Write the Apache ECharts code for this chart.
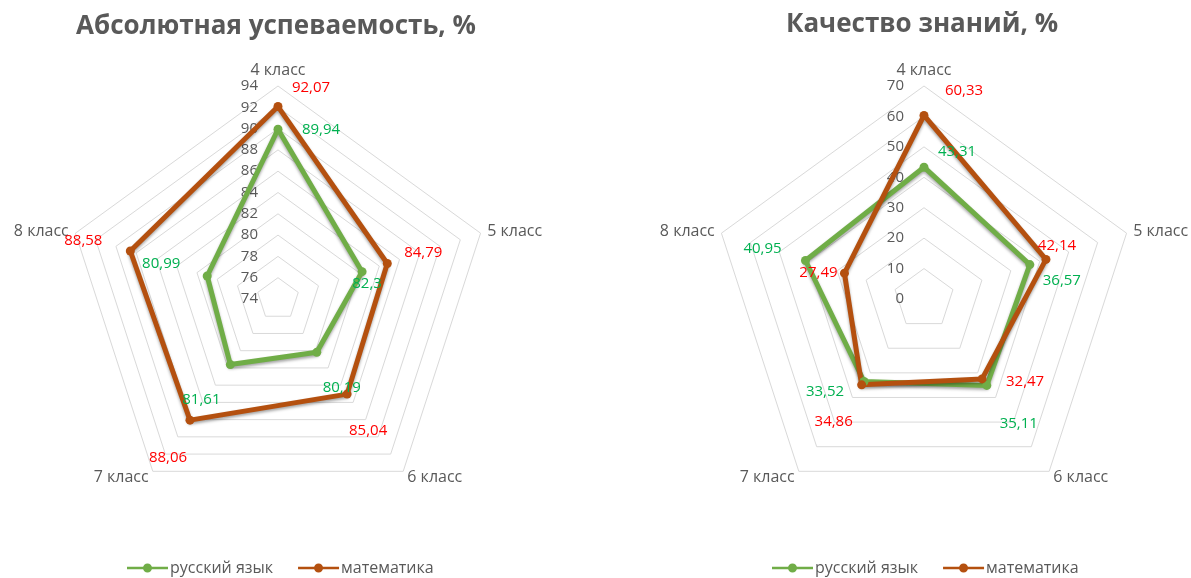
<!DOCTYPE html>
<html>
<head>
<meta charset="utf-8">
<script src="https://cdn.jsdelivr.net/npm/echarts@6/dist/echarts.min.js"></script>
<style>
  html, body { margin: 0; padding: 0; background: #fff; }
  #chart { width: 1191px; height: 578px; }
</style>
</head>
<body>
<div id="chart"></div>
<script>
  var classes = ['4 класс', '5 класс', '6 класс', '7 класс', '8 класс']
  var subjects = ['русский язык', 'математика']

  // Абсолютная успеваемость, %
  var passRus = [89.94, 82.3, 80.19, 81.61, 80.99]
  var passMath = [92.07, 84.79, 85.04, 88.06, 88.58]
  var passAxis = { min: 74, max: 94, splitNumber: 10 }

  // Качество знаний, %
  var qualRus = [43.31, 36.57, 35.11, 33.52, 40.95]
  var qualMath = [60.33, 42.14, 32.47, 34.86, 27.49]
  var qualAxis = { min: 0, max: 70, splitNumber: 7 }

  // сдвиг подписей от точки (как в экселе, подписи разбросаны)
  var offPassRus = [[43, 0], [5, 12], [25, 35], [-29, 35], [-46, -12]]
  var offPassMath = [[33, -19], [36, -11], [21, 37], [-22, 38], [-47, -10]]
  var offQualRus = [[33, -15], [32, 16], [32, 38], [-39, 10], [-43, -12]]
  var offQualMath = [[40, -25], [11, -14], [43, 3], [-28, 37], [-26, 0]]

  // echarts рисует индикаторы против часовой, эксель по часовой
  var order = [0, 4, 3, 2, 1]

  var green = '#70AD47'
  var brown = '#B4500F'
  var greenText = '#00B050'
  var redText = '#FF0000'
  var grey = '#595959'
  var font = 'Open Sans'

  function fmt(v) {
    return String(v).replace('.', ',')
  }

  function reorder(arr) {
    return order.map(function (k) { return arr[k] })
  }

  function radar(cx, axis) {
    return {
      center: [cx, 299],
      radius: 213,
      shape: 'polygon',
      startAngle: 90,
      splitNumber: axis.splitNumber,
      nameGap: 7,
      indicator: reorder(classes).map(function (c, i) {
        var ind = { name: c, min: axis.min, max: axis.max }
        if (i === 0) ind.axisLabel = { show: true }
        return ind
      }),
      axisName: { color: grey, fontSize: 16, fontFamily: font },
      axisLine: { show: false },
      axisTick: { show: false },
      axisLabel: { show: false, color: grey, fontSize: 15, fontFamily: font, margin: 20, align: 'right' },
      splitLine: { lineStyle: { color: '#D9D9D9', width: 1 } },
      splitArea: { show: false }
    }
  }

  function series(radarIndex, name, vals, color, textColor, offs) {
    var values = reorder(vals)
    var offsets = reorder(offs)
    var data = [{
      name: name,
      value: values,
      symbol: 'circle',
      symbolSize: 9,
      label: { show: false }
    }]
    // по одному невидимому элементу на каждую подпись
    values.forEach(function (v, i) {
      data.push({
        name: name,
        value: values,
        symbol: 'circle',
        symbolSize: 1,
        lineStyle: { opacity: 0, shadowBlur: 0 },
        itemStyle: { color: 'transparent' },
        label: {
          show: true,
          position: 'inside',
          offset: offsets[i],
          color: textColor,
          opacity: 1,
          fontSize: 15,
          fontFamily: font,
          formatter: function (p) {
            var idx = p.dimensionIndex != null ? p.dimensionIndex : values.indexOf(p.value)
            return idx === i ? fmt(values[i]) : ''
          }
        }
      })
    })
    return {
      type: 'radar',
      name: name,
      radarIndex: radarIndex,
      silent: true,
      itemStyle: { color: color },
      lineStyle: {
        color: color,
        width: 5,
        shadowBlur: 3,
        shadowOffsetY: 2,
        shadowColor: 'rgba(0,0,0,0.35)'
      },
      data: data
    }
  }

  function legend(left) {
    return {
      left: left,
      top: 560,
      padding: 0,
      data: [
        { name: subjects[0], itemStyle: { color: green } },
        { name: subjects[1], itemStyle: { color: brown } }
      ],
      itemWidth: 41,
      itemHeight: 9,
      itemGap: 25,
      icon: 'path://M0,3.5h41v2.5h-41z M16,4.75a4.5,4.5 0 1,1 9,0a4.5,4.5 0 1,1 -9,0z',
      itemStyle: { borderWidth: 0 },
      textStyle: { color: grey, fontSize: 16, fontFamily: font, padding: [0, 0, 0, -3] }
    }
  }

  var titleFont = 'bold 26px "Open Sans"'

  var chart = echarts.init(document.getElementById('chart'))
  chart.setOption({
    backgroundColor: '#fff',
    animation: false,
    graphic: [{
      type: 'text',
      x: 276,
      y: 27,
      style: {
        text: 'Абсолютная успеваемость, %',
        font: titleFont,
        fill: grey,
        align: 'center',
        verticalAlign: 'middle'
      }
    }, {
      type: 'text',
      x: 922,
      y: 25,
      style: {
        text: 'Качество знаний, %',
        font: titleFont,
        fill: grey,
        align: 'center',
        verticalAlign: 'middle'
      }
    }],
    legend: [legend(127), legend(772)],
    radar: [radar(278, passAxis), radar(924, qualAxis)],
    series: [
      series(0, subjects[0], passRus, green, greenText, offPassRus),
      series(0, subjects[1], passMath, brown, redText, offPassMath),
      series(1, subjects[0], qualRus, green, greenText, offQualRus),
      series(1, subjects[1], qualMath, brown, redText, offQualMath)
    ]
  })
</script>
</body>
</html>
